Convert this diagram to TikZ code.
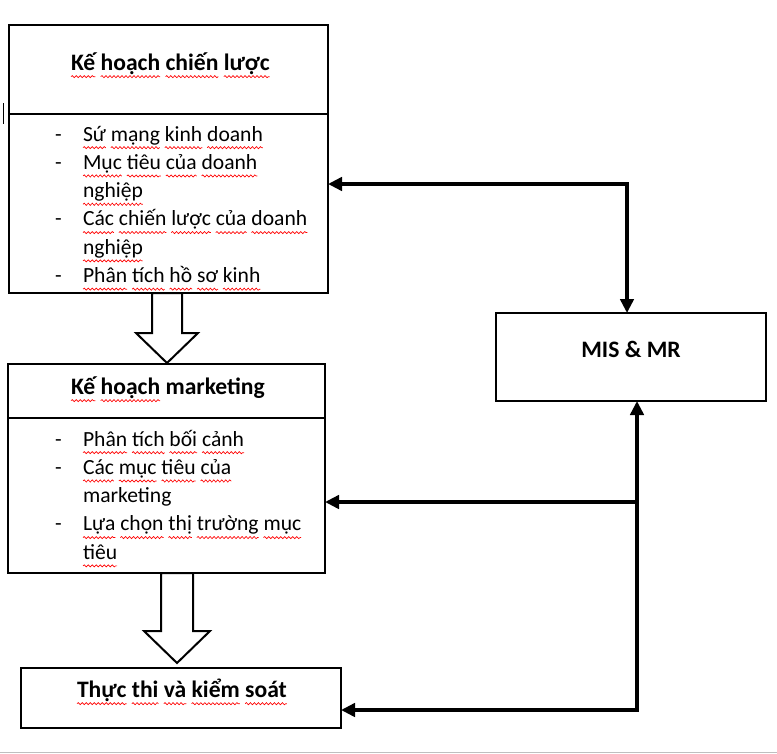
\documentclass[tikz,border=0pt]{standalone}
\usepackage{fontspec}
\setmainfont{Carlito}
\usetikzlibrary{arrows.meta,decorations.pathmorphing}
\tikzset{
  box/.style={draw, line width=1.5pt, inner sep=0pt, outer sep=0pt},
  sz/.style 2 args={minimum width=#1*0.75pt, minimum height=#2*0.75pt},
  hd/.style={font=\bfseries\fontsize{17.7}{21}\selectfont, inner sep=0pt, outer sep=0pt, anchor=base west},
  hdc/.style={font=\bfseries\fontsize{17.7}{21}\selectfont, inner sep=0pt, anchor=base},
  tx/.style={font=\fontsize{16.2}{21}\selectfont, inner sep=0pt, outer sep=0pt, anchor=base west},
  hdn/.style={hd, xshift=4pt},
  txn/.style={tx, xshift=3.66pt},
  wv/.style={red, line width=0.5pt, decorate, decoration={snake, amplitude=0.8pt, segment length=3pt}},
  fb/.style={line width=3pt, line join=miter, {Triangle[length=10.5pt,width=10pt]}-{Triangle[length=10.5pt,width=10pt]}},
  fb1/.style={line width=3pt, -{Triangle[length=10.5pt,width=10pt]}},
  hollow/.style={draw, line width=1.5pt, fill=white, line join=miter}
}
% first word of a line (wavy underline)
\newcommand\Wf[4]{\node[#1] (#2) at (#3) {#4};
  \draw[wv] ([yshift=-5pt]#2.base west) -- ([yshift=-5pt]#2.base east);}
% following word (wavy underline)
\newcommand\Wn[4]{\node[#1] (#2) at (#3.base east) {#4};
  \draw[wv] ([yshift=-5pt]#2.base west) -- ([yshift=-5pt]#2.base east);}
% following word (no underline)
\newcommand\Pn[4]{\node[#1] (#2) at (#3.base east) {#4};}
\begin{document}
\begin{tikzpicture}[x=0.75pt,y=-0.75pt]
\useasboundingbox (0,0) rectangle (777,753);
% page edge line
\draw[color=black!25, line width=0.75pt] (0,752) -- (777,752);
% cursor mark
\draw[line width=0.75pt] (3.5,103) -- (3.5,124);

% hollow arrows
\draw[hollow] (152,293) -- (152,333) -- (136,333) -- (167,363) -- (198,333) -- (182,333) -- (182,293) -- cycle;
\draw[hollow] (161,573) -- (161,631) -- (144,631) -- (177,663) -- (210,631) -- (193,631) -- (193,573) -- cycle;

% boxes
\node[box, sz={319}{89}]  (b1h) at (168.5,69.5) {};
\node[box, sz={319}{179}] (b1b) at (168.5,203.5) {};
\node[box, sz={317}{54}]  (b2h) at (166.5,391) {};
\node[box, sz={317}{155}] (b2b) at (166.5,495.5) {};
\node[box, sz={320}{60}]  (b3)  at (181,698) {};
\node[box, sz={270}{88}]  (mis) at (631,357) {};

% titles
\Wf{hd}{t1a}{71,70}{Kế} \Wn{hdn}{t1b}{t1a}{hoạch} \Wn{hdn}{t1c}{t1b}{chiến} \Wn{hdn}{t1d}{t1c}{lược}
\Wf{hd}{t2a}{71,394}{Kế} \Wn{hdn}{t2b}{t2a}{hoạch} \Pn{hdn}{t2c}{t2b}{marketing}
\Wf{hd}{t3a}{77,697}{Thực} \Wn{hdn}{t3b}{t3a}{thi} \Wn{hdn}{t3c}{t3b}{và} \Wn{hdn}{t3d}{t3c}{kiểm} \Wn{hdn}{t3e}{t3d}{soát}
\node[hdc] (t4) at (631,357) {MIS \& MR};

% box 1 body
\node[tx] (d11) at (55,141) {-};
\Wf{tx}{l11a}{83,141}{Sứ} \Wn{txn}{l11b}{l11a}{mạng} \Wn{txn}{l11c}{l11b}{kinh} \Wn{txn}{l11d}{l11c}{doanh}
\node[tx] (d12) at (55,169.3) {-};
\Wf{tx}{l12a}{83,169.3}{Mục} \Wn{txn}{l12b}{l12a}{tiêu} \Wn{txn}{l12c}{l12b}{của} \Wn{txn}{l12d}{l12c}{doanh}
\Wf{tx}{l13a}{83,197.6}{nghiệp}
\node[tx] (d14) at (55,225.9) {-};
\Wf{tx}{l14a}{83,225.9}{Các} \Wn{txn}{l14b}{l14a}{chiến} \Wn{txn}{l14c}{l14b}{lược} \Wn{txn}{l14d}{l14c}{của} \Wn{txn}{l14e}{l14d}{doanh}
\Wf{tx}{l15a}{83,254.2}{nghiệp}
\node[tx] (d16) at (55,282.5) {-};
\Wf{tx}{l16a}{83,282.5}{Phân} \Wn{txn}{l16b}{l16a}{tích} \Wn{txn}{l16c}{l16b}{hồ} \Wn{txn}{l16d}{l16c}{sơ} \Wn{txn}{l16e}{l16d}{kinh}

% box 2 body
\node[tx] (d21) at (55,446) {-};
\Wf{tx}{l21a}{83,446}{Phân} \Wn{txn}{l21b}{l21a}{tích} \Wn{txn}{l21c}{l21b}{bối} \Wn{txn}{l21d}{l21c}{cảnh}
\node[tx] (d22) at (55,474.3) {-};
\Wf{tx}{l22a}{83,474.3}{Các} \Wn{txn}{l22b}{l22a}{mục} \Wn{txn}{l22c}{l22b}{tiêu} \Wn{txn}{l22d}{l22c}{của}
\node[tx] (l23) at (83,502.6) {marketing};
\node[tx] (d24) at (55,530.9) {-};
\Wf{tx}{l24a}{83,530.9}{Lựa} \Wn{txn}{l24b}{l24a}{chọn} \Wn{txn}{l24c}{l24b}{thị} \Wn{txn}{l24d}{l24c}{trường} \Wn{txn}{l24e}{l24d}{mục}
\Wf{tx}{l25a}{83,559.2}{tiêu}

% feedback connectors
\coordinate (c1) at (627,184);
\coordinate (c2) at (637,502);
\coordinate (c3) at (637,710);
\draw[fb] (b1b.east |- c1) -- (c1) -- (mis.north -| c1);
\draw[fb] (b3.east |- c3) -- (c3) -- (mis.south -| c3);
\draw[fb1] (c2) -- (b2b.east |- c2);
\end{tikzpicture}
\end{document}
